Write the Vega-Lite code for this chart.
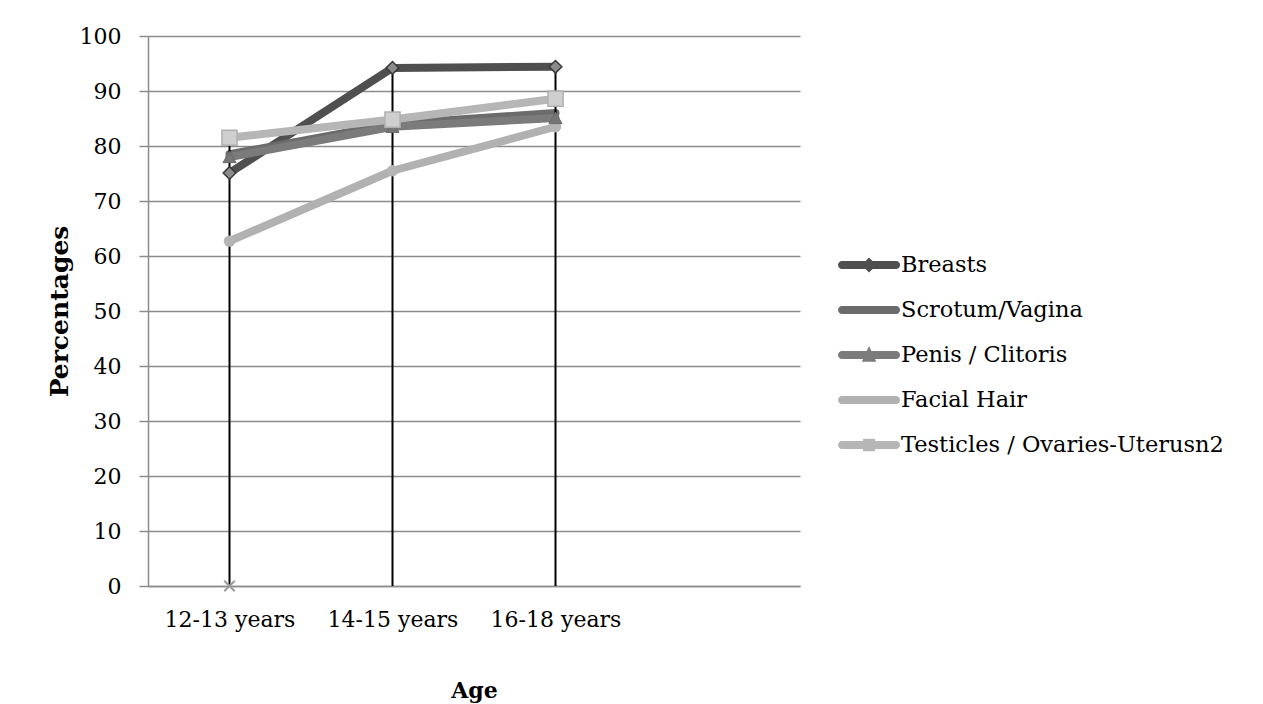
{
  "$schema": "https://vega.github.io/schema/vega-lite/v6.json",
  "width": 652,
  "height": 550,
  "autosize": "none",
  "padding": {"left": 148, "top": 36, "right": 463, "bottom": 118},
  "background": "white",
  "config": {
    "font": "DejaVu Serif",
    "view": {"stroke": null},
    "axis": {"labelFont": "DejaVu Serif", "titleFont": "DejaVu Serif", "labelColor": "black", "titleColor": "black"},
    "legend": {
      "labelFont": "DejaVu Serif",
      "labelFontSize": 22.5,
      "labelLimit": 500,
      "labelColor": "black",
      "orient": "none",
      "legendX": 690,
      "legendY": 214,
      "symbolSize": 900,
      "symbolStrokeWidth": 0,
      "symbolOpacity": 1,
      "labelOffset": 33,
      "rowPadding": 18,
      "title": null
    }
  },
  "datasets": {
    "main": [
      {"age": "12-13 years", "series": "Breasts", "value": 75.1},
      {"age": "14-15 years", "series": "Breasts", "value": 94.2},
      {"age": "16-18 years", "series": "Breasts", "value": 94.4},
      {"age": "12-13 years", "series": "Scrotum/Vagina", "value": 78.5},
      {"age": "14-15 years", "series": "Scrotum/Vagina", "value": 84.0},
      {"age": "16-18 years", "series": "Scrotum/Vagina", "value": 86.0},
      {"age": "12-13 years", "series": "Penis / Clitoris", "value": 78.0},
      {"age": "14-15 years", "series": "Penis / Clitoris", "value": 83.5},
      {"age": "16-18 years", "series": "Penis / Clitoris", "value": 85.1},
      {"age": "12-13 years", "series": "Facial Hair", "value": 62.7},
      {"age": "14-15 years", "series": "Facial Hair", "value": 75.5},
      {"age": "16-18 years", "series": "Facial Hair", "value": 83.5},
      {"age": "12-13 years", "series": "Testicles / Ovaries-Uterusn2", "value": 81.5},
      {"age": "14-15 years", "series": "Testicles / Ovaries-Uterusn2", "value": 84.8},
      {"age": "16-18 years", "series": "Testicles / Ovaries-Uterusn2", "value": 88.6}
    ],
    "extra": [
      {"age": "12-13 years", "series": "Series6", "value": 0}
    ]
  },
  "data": {"name": "main"},
  "encoding": {
    "x": {
      "field": "age",
      "type": "ordinal",
      "scale": {"type": "point", "domain": ["12-13 years", "14-15 years", "16-18 years", " "], "padding": 0.5},
      "axis": {
        "title": "Age",
        "titleFontSize": 22,
        "titleFontWeight": "bold",
        "titlePadding": 50,
        "labelFontSize": 22,
        "labelAngle": 0,
        "labelPadding": 23,
        "ticks": false,
        "domainColor": "#8c8c8c",
        "domainWidth": 1.5,
        "grid": false
      }
    },
    "y": {
      "field": "value",
      "type": "quantitative",
      "scale": {"domain": [0, 100]},
      "axis": {
        "title": "Percentages",
        "titleFontSize": 25,
        "titleFontWeight": "bold",
        "titlePadding": 7,
        "values": [0, 10, 20, 30, 40, 50, 60, 70, 80, 90, 100],
        "labelFontSize": 22,
        "labelPadding": 18,
        "tickSize": 9,
        "tickColor": "#8c8c8c",
        "tickWidth": 1.5,
        "domainColor": "#8c8c8c",
        "domainWidth": 1.5,
        "grid": true,
        "gridColor": "#8c8c8c",
        "gridWidth": 1.5
      }
    }
  },
  "layer": [
    {
      "mark": {"type": "line", "strokeWidth": 8, "strokeCap": "round", "strokeJoin": "round"},
      "encoding": {
        "color": {
          "field": "series",
          "type": "nominal",
          "scale": {
            "domain": ["Breasts", "Scrotum/Vagina", "Penis / Clitoris", "Facial Hair", "Testicles / Ovaries-Uterusn2"],
            "range": ["#4f4f4f", "#6b6b6b", "#7b7b7b", "#b1b1b1", "#b6b6b6"]
          }
        },
        "order": {"field": "age"}
      }
    },
    {
      "mark": {"type": "rule", "color": "black", "strokeWidth": 2},
      "encoding": {
        "y": {"aggregate": "max", "field": "value", "type": "quantitative"},
        "y2": {"datum": 0}
      }
    },
    {
      "transform": [{"filter": "datum.series === 'Facial Hair'"}],
      "mark": {"type": "point", "shape": "circle", "filled": true, "size": 130, "color": "#b5b5b5", "opacity": 1}
    },
    {
      "transform": [{"filter": "datum.series === 'Breasts'"}],
      "mark": {"type": "point", "shape": "diamond", "filled": true, "size": 160, "fill": "#8c8c8c", "stroke": "#3a3a3a", "strokeWidth": 1.5, "opacity": 1}
    },
    {
      "transform": [{"filter": "datum.series === 'Penis / Clitoris'"}],
      "mark": {"type": "point", "shape": "triangle-up", "filled": true, "size": 170, "fill": "#767676", "stroke": "#6a6a6a", "strokeWidth": 1, "opacity": 1}
    },
    {
      "transform": [{"filter": "datum.series === 'Testicles / Ovaries-Uterusn2'"}],
      "mark": {"type": "point", "shape": "square", "filled": true, "size": 230, "fill": "#cfcfcf", "stroke": "#b0b0b0", "strokeWidth": 1.5, "opacity": 1}
    },
    {
      "data": {"name": "extra"},
      "mark": {"type": "point", "shape": "M-1,-1L1,1M-1,1L1,-1", "filled": false, "size": 110, "stroke": "#9a9a9a", "strokeWidth": 2, "opacity": 1}
    },
    {
      "mark": {"type": "point", "filled": true, "opacity": 0},
      "encoding": {
        "color": {"field": "series", "type": "nominal"},
        "shape": {
          "field": "series",
          "type": "nominal",
          "scale": {
            "domain": ["Breasts", "Scrotum/Vagina", "Penis / Clitoris", "Facial Hair", "Testicles / Ovaries-Uterusn2"],
            "range": [
              "M-0.73,-0.27H2.87A0.27,0.27 0 0 1 2.87,0.27H-0.73A0.27,0.27 0 0 1 -0.73,-0.27Z M1.07,-0.5L1.57,0L1.07,0.5L0.57,0Z",
              "M-0.73,-0.27H2.87A0.27,0.27 0 0 1 2.87,0.27H-0.73A0.27,0.27 0 0 1 -0.73,-0.27Z",
              "M-0.73,-0.27H2.87A0.27,0.27 0 0 1 2.87,0.27H-0.73A0.27,0.27 0 0 1 -0.73,-0.27Z M1.07,-0.6L1.55,0.45L0.59,0.45Z",
              "M-0.73,-0.27H2.87A0.27,0.27 0 0 1 2.87,0.27H-0.73A0.27,0.27 0 0 1 -0.73,-0.27Z",
              "M-0.73,-0.27H2.87A0.27,0.27 0 0 1 2.87,0.27H-0.73A0.27,0.27 0 0 1 -0.73,-0.27Z M0.67,-0.42H1.47V0.42H0.67Z"
            ]
          }
        }
      }
    }
  ]
}
